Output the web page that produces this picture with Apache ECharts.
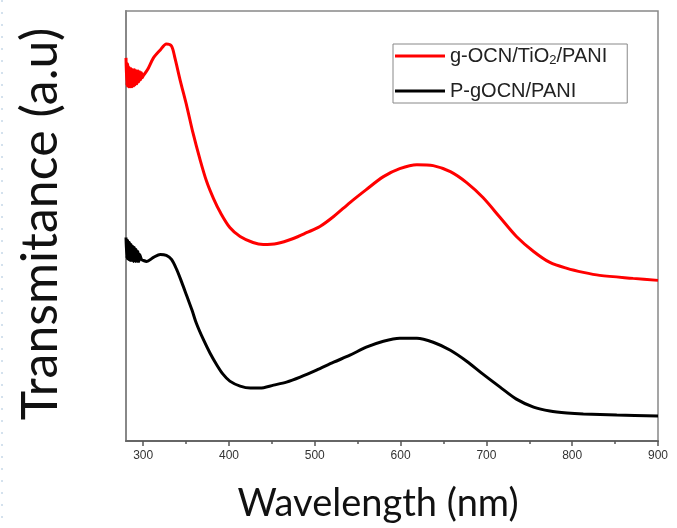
<!DOCTYPE html>
<html>
<head>
<meta charset="utf-8" />
<title>Transmitance</title>
<script src="https://cdn.jsdelivr.net/npm/echarts@6/dist/echarts.min.js"></script>
<style>
  * { margin: 0; padding: 0; }
  #chart { width: 677px; height: 528px; background: #fff; }
</style>
</head>
<body>
<div id="chart"></div>
<script>
// g-OCN/TiO2/PANI (red), noisy start near 280-300 nm
var redWave = [280, 281, 282, 283, 284, 285, 286, 287, 288, 289, 290, 291, 292, 293, 294, 295, 296, 297, 298, 299, 300,
  305, 312, 320, 327, 333, 337, 343, 351, 358, 366, 374, 382, 390, 401, 413, 428, 440, 456, 475, 491, 506,
  522, 541, 560, 580, 599, 619, 638, 658, 677, 696, 716, 735, 755, 774, 794, 813, 832, 871, 900];
var redVals = [384, 356, 378, 355, 374, 355, 373, 355, 372, 356, 372, 357, 371, 358, 371, 360, 370, 362, 369, 364, 366,
  372, 384, 392, 398, 396, 384, 362, 335, 309, 283, 260, 243, 229, 214, 205, 199, 197, 198, 203, 209, 215,
  225, 239, 252, 265, 273, 277, 276, 270, 259, 244, 224, 205, 190, 179, 173, 169, 166, 163, 161];

// P-gOCN/PANI (black)
var blackWave = [280, 281, 282, 283, 284, 285, 286, 287, 288, 289, 290, 291, 292, 293, 294, 295, 296, 298, 300,
  304, 312, 320, 327, 333, 339, 345, 351, 357, 362, 370, 378, 386, 393, 401, 413, 425, 436, 452, 467, 483,
  502, 522, 541, 560, 580, 599, 619, 638, 658, 677, 696, 716, 735, 755, 774, 794, 813, 852, 900];
var blackVals = [204, 183, 201, 182, 199, 181, 197, 181, 195, 180, 194, 180, 192, 180, 190, 180, 187, 182, 181,
  180, 184, 187, 186, 182, 172, 159, 145, 131, 118, 102, 88, 76, 67, 60, 55, 53, 53, 56, 59, 64,
  71, 79, 86, 94, 100, 103, 103, 99, 91, 80, 67, 54, 42, 34, 30, 28, 27, 26, 25];

var majorTicks = [300, 400, 500, 600, 700, 800, 900];
var minorTicks = [350, 450, 550, 650, 750, 850];

function pairs(xs, ys) {
  var out = [];
  for (var i = 0; i < xs.length; i++) out.push([xs[i], ys[i]]);
  return out;
}

var chart = echarts.init(document.getElementById('chart'), null, { renderer: 'canvas' });

var option = {
  animation: false,
  backgroundColor: '#fff',
  grid: {
    left: 126, right: 19, top: 11, bottom: 86,
    show: true, borderColor: '#888', borderWidth: 1.5
  },
  graphic: [{
    type: 'line',
    shape: { x1: 2, y1: 0, x2: 2, y2: 528 },
    style: { stroke: '#a9c4dc', lineWidth: 1, lineDash: [2, 10] }
  }],
  legend: {
    orient: 'vertical',
    left: 393, top: 44,
    padding: [2, 20, 2, 2],
    itemGap: 14,
    itemWidth: 50, itemHeight: 3,
    icon: 'rect',
    borderColor: '#888', borderWidth: 1,
    data: ['g-OCN/TiO2/PANI', 'P-gOCN/PANI'],
    formatter: function (name) {
      if (name === 'g-OCN/TiO2/PANI') return '{a|g-OCN/TiO}{s|2}{a|/PANI}';
      return '{a|' + name + '}';
    },
    textStyle: {
      rich: {
        a: { fontFamily: 'Liberation Sans', fontSize: 20, color: '#222', lineHeight: 22 },
        s: { fontFamily: 'Liberation Sans', fontSize: 13, color: '#222', lineHeight: 8, verticalAlign: 'bottom' }
      }
    }
  },
  xAxis: [{
    type: 'value',
    min: 280, max: 900,
    name: 'Wavelength (nm)',
    nameLocation: 'middle',
    nameGap: 44,
    nameTextStyle: { fontFamily: 'Lato', fontSize: 38, color: '#111', padding: [0, 28, 0, 0] },
    axisLine: { show: true, lineStyle: { color: '#666', width: 2 } },
    axisTick: { show: true, customValues: majorTicks, length: 5, lineStyle: { color: '#555', width: 1.5 } },
    axisLabel: { customValues: majorTicks, fontFamily: 'Liberation Sans', fontSize: 12, color: '#333', margin: 9 },
    splitLine: { show: false }
  }, {
    type: 'value',
    min: 280, max: 900,
    position: 'bottom',
    axisLine: { show: false },
    axisTick: { show: true, customValues: minorTicks, length: 3, lineStyle: { color: '#555', width: 1.5 } },
    axisLabel: { show: false },
    splitLine: { show: false }
  }],
  yAxis: {
    type: 'value',
    min: 0, max: 431,
    name: 'Transmitance (a.u)',
    nameLocation: 'middle',
    nameGap: 60,
    nameRotate: 90,
    nameTextStyle: { fontFamily: 'Lato', fontSize: 50, color: '#111', padding: [0, 0, 0, 4] },
    axisLine: { show: true, lineStyle: { color: '#888', width: 2 } },
    axisTick: { show: false },
    axisLabel: { show: false },
    splitLine: { show: false }
  },
  series: [{
    name: 'g-OCN/TiO2/PANI',
    type: 'line',
    showSymbol: false,
    smooth: 0.3,
    color: '#ff0000',
    lineStyle: { width: 3, color: '#ff0000' },
    data: pairs(redWave, redVals)
  }, {
    name: 'P-gOCN/PANI',
    type: 'line',
    showSymbol: false,
    smooth: 0.3,
    color: '#000000',
    lineStyle: { width: 3, color: '#000000' },
    data: pairs(blackWave, blackVals)
  }]
};

chart.setOption(option);
</script>
</body>
</html>
